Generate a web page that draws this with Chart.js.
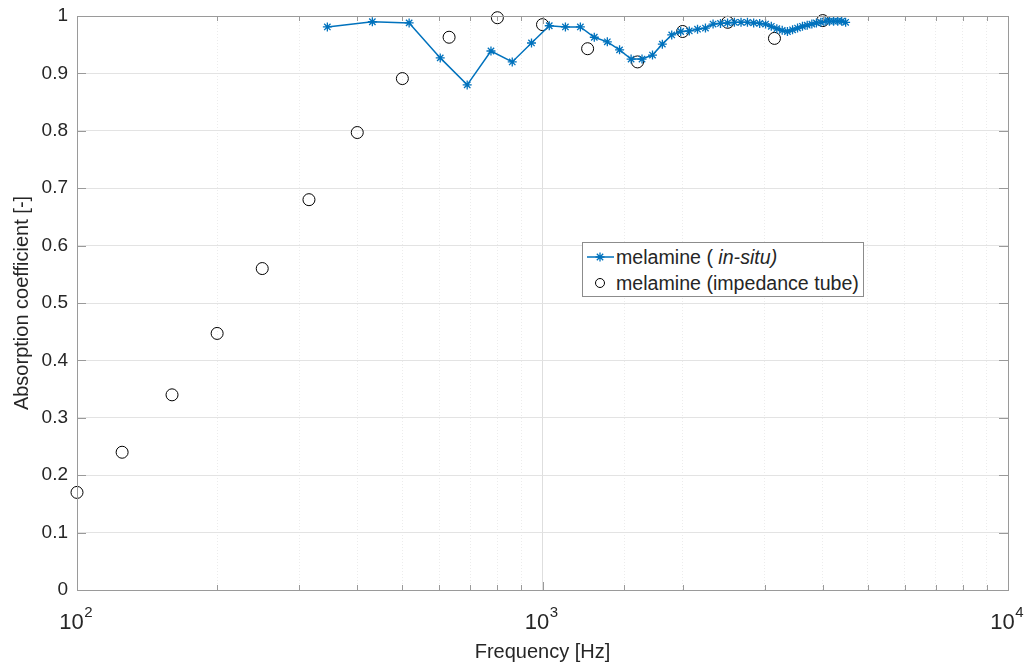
<!DOCTYPE html>
<html>
<head>
<meta charset="utf-8">
<script src="https://cdn.jsdelivr.net/npm/chart.js@4.4.1/dist/chart.umd.min.js"></script>
<style>
  html, body { margin: 0; padding: 0; background: #fff; }
  #wrap { position: relative; width: 1030px; height: 664px; }
  #legend {
    position: absolute; left: 582px; top: 242px; width: 280px; height: 53px;
    background: #fff; border: 1px solid #8c8c8c;
    font-family: "Liberation Sans", Arial, sans-serif; font-size: 19.6px; color: #262626;
  }
  .row { position: absolute; left: 0; height: 26px; line-height: 26px; white-space: nowrap; }
  .row span { position: absolute; left: 33px; }
  .row canvas { position: absolute; left: 0; top: 0; }
</style>
</head>
<body>
<div id="wrap">
  <canvas id="myChart" width="1030" height="664"></canvas>
  <div id="legend">
    <div class="row" style="top:1px"><canvas id="lg1" width="33" height="26"></canvas><span>melamine ( <i>in-situ)</i></span></div>
    <div class="row" style="top:27px"><canvas id="lg2" width="33" height="26"></canvas><span>melamine (impedance tube)</span></div>
  </div>
</div>
<script>
/*Data*/

const insituFreq = [345, 431, 517, 603, 689, 775, 861, 947, 1034, 1120,
    1206, 1292, 1378, 1464, 1550, 1636, 1723, 1809, 1895, 1981,
    2067, 2153, 2239, 2325, 2412, 2498, 2584, 2670, 2756, 2842,
    2928, 3015, 3101, 3187, 3273, 3359, 3445, 3531, 3618, 3704,
    3790, 3876, 3962, 4048, 4134, 4220, 4307, 4393, 4479];
const insituAlpha = [0.981, 0.990, 0.988, 0.927, 0.880, 0.939, 0.920, 0.953, 0.983, 0.981,
    0.981, 0.963, 0.955, 0.941, 0.925, 0.925, 0.932, 0.951, 0.967, 0.973,
    0.974, 0.977, 0.979, 0.986, 0.987, 0.988, 0.989, 0.989, 0.989, 0.988,
    0.987, 0.986, 0.982, 0.978, 0.975, 0.973, 0.976, 0.979, 0.982, 0.984,
    0.986, 0.988, 0.989, 0.991, 0.991, 0.991, 0.991, 0.991, 0.989];

const tubeFreq = [100, 125, 160, 200, 250, 315, 400, 500, 630, 800, 1000, 1250, 1600, 2000, 2500, 3150, 4000];
const tubeAlpha = [0.17, 0.24, 0.34, 0.447, 0.56, 0.68, 0.797, 0.891, 0.963, 0.997, 0.985, 0.943, 0.92, 0.973, 0.989, 0.961, 0.992];

const xTickExponents = {100: '2', 1000: '3', 10000: '4'};
const yTickLabels = ['0', '0.1', '0.2', '0.3', '0.4', '0.5', '0.6', '0.7', '0.8', '0.9', '1'];

const blue = '#0072BD';
const textColor = '#262626';
const axisColor = '#9a9a9a';
const fontFamily = '"Liberation Sans", Arial, sans-serif';

function isDecade(v) {
    const l = Math.log10(v);
    return Math.abs(l - Math.round(l)) < 1e-6;
}

/*Box, inward ticks and exponents*/

const boxPlugin = {
    id: 'box',
    afterDraw(chart) {
        const {ctx, chartArea: a, scales} = chart;
        ctx.save();
        ctx.strokeStyle = axisColor;
        ctx.lineWidth = 1;
        ctx.beginPath();
        for (const t of scales.x.ticks) {
            const px = Math.round(scales.x.getPixelForValue(t.value)) + 0.5;
            const len = isDecade(t.value) ? 8 : 5;
            ctx.moveTo(px, a.bottom); ctx.lineTo(px, a.bottom - len);
            ctx.moveTo(px, a.top); ctx.lineTo(px, a.top + len);
        }
        for (const t of scales.y.ticks) {
            const py = Math.round(scales.y.getPixelForValue(t.value)) + 0.5;
            ctx.moveTo(a.left, py); ctx.lineTo(a.left + 9, py);
            ctx.moveTo(a.right, py); ctx.lineTo(a.right - 9, py);
        }
        ctx.stroke();
        ctx.strokeRect(Math.round(a.left) + 0.5, Math.round(a.top) + 0.5,
            Math.round(a.right - a.left), Math.round(a.bottom - a.top));

        // exponents of the decade labels
        ctx.font = '22px ' + fontFamily;
        const baseW = ctx.measureText('10').width;
        const gapW = ctx.measureText('\u2002').width;
        ctx.font = '15px ' + fontFamily;
        ctx.fillStyle = textColor;
        ctx.textAlign = 'left';
        ctx.textBaseline = 'alphabetic';
        for (const t of scales.x.ticks) {
            const e = xTickExponents[t.value];
            if (!e) continue;
            const px = scales.x.getPixelForValue(t.value);
            const x0 = px - (baseW + gapW) / 2 + baseW + 0.5;
            ctx.fillText(e, x0, scales.x.top + 27);
        }
        ctx.restore();
    }
};

/*Chart*/

function initChart() {
    const ctx = document.getElementById('myChart').getContext('2d');
    Chart.defaults.font.family = fontFamily;
    Chart.defaults.color = textColor;

    return new Chart(ctx, {
        type: 'scatter',
        data: {
            datasets: [{
                label: 'melamine ( in-situ)',
                data: insituFreq.map((f, i) => ({x: f, y: insituAlpha[i]})),
                showLine: true,
                borderColor: blue,
                backgroundColor: blue,
                borderWidth: 1.5,
                pointStyle: 'star',
                pointRadius: 4.5,
                pointBorderWidth: 1.3,
                pointHoverRadius: 4.5,
                clip: false,
            },
            {
                label: 'melamine (impedance tube)',
                data: tubeFreq.map((f, i) => ({x: f, y: tubeAlpha[i]})),
                showLine: false,
                borderColor: '#000',
                backgroundColor: 'rgba(0,0,0,0)',
                pointStyle: 'circle',
                pointRadius: 6,
                pointBorderWidth: 1,
                pointHoverRadius: 6,
                clip: false,
            }]
        },
        options: {
            responsive: false,
            animation: false,
            events: [],
            layout: {padding: {left: 0, right: 22, top: 16, bottom: 0}},
            plugins: {legend: {display: false}, tooltip: {enabled: false}},
            scales: {
                x: {
                    type: 'logarithmic',
                    min: 100,
                    max: 10000,
                    afterFit(scale) {
                        scale.height = 74;
                        scale.paddingLeft = 0;
                        scale.paddingRight = 0;
                    },
                    grid: {
                        drawTicks: false,
                        color: c => isDecade(c.tick.value) ? '#dedede' : '#ececec',
                        lineWidth: 1,
                    },
                    border: {display: false, dash: c => (c.tick && !isDecade(c.tick.value)) ? [1, 2] : []},
                    ticks: {
                        autoSkip: false,
                        maxRotation: 0,
                        padding: 20,
                        font: {size: 22},
                        callback: v => xTickExponents[v] ? '10\u2002' : '',
                    },
                    title: {
                        display: true,
                        text: 'Frequency [Hz]',
                        font: {size: 20},
                        padding: {top: 2, bottom: 0},
                    }
                },
                y: {
                    min: 0,
                    max: 1,
                    afterFit(scale) {
                        scale.width = 77;
                        scale.paddingTop = 0;
                        scale.paddingBottom = 0;
                    },
                    grid: {drawTicks: false, color: '#e3e3e3', lineWidth: 1},
                    border: {display: false},
                    ticks: {
                        stepSize: 0.1,
                        padding: 9,
                        font: {size: 19},
                        callback: (v, i) => yTickLabels[i],
                    },
                    title: {
                        display: true,
                        text: 'Absorption coefficient [-]',
                        font: {size: 20},
                        padding: {top: 10, bottom: 0},
                    }
                }
            }
        },
        plugins: [boxPlugin]
    });
}

/*Legend markers*/

function initLegend() {
    const c1 = document.getElementById('lg1').getContext('2d');
    c1.strokeStyle = blue;
    c1.lineWidth = 1.5;
    c1.beginPath(); c1.moveTo(4, 13); c1.lineTo(31, 13); c1.stroke();
    c1.lineWidth = 1.3;
    c1.beginPath();
    for (let k = 0; k < 4; k++) {
        const a = k * Math.PI / 4;
        c1.moveTo(17 - 4.5 * Math.cos(a), 13 - 4.5 * Math.sin(a));
        c1.lineTo(17 + 4.5 * Math.cos(a), 13 + 4.5 * Math.sin(a));
    }
    c1.stroke();

    const c2 = document.getElementById('lg2').getContext('2d');
    c2.strokeStyle = '#000';
    c2.lineWidth = 1;
    c2.beginPath(); c2.arc(17, 13, 4.5, 0, Math.PI * 2); c2.stroke();
}

const app = () => {
    initChart();
    initLegend();
};
app();
</script>
</body>
</html>
